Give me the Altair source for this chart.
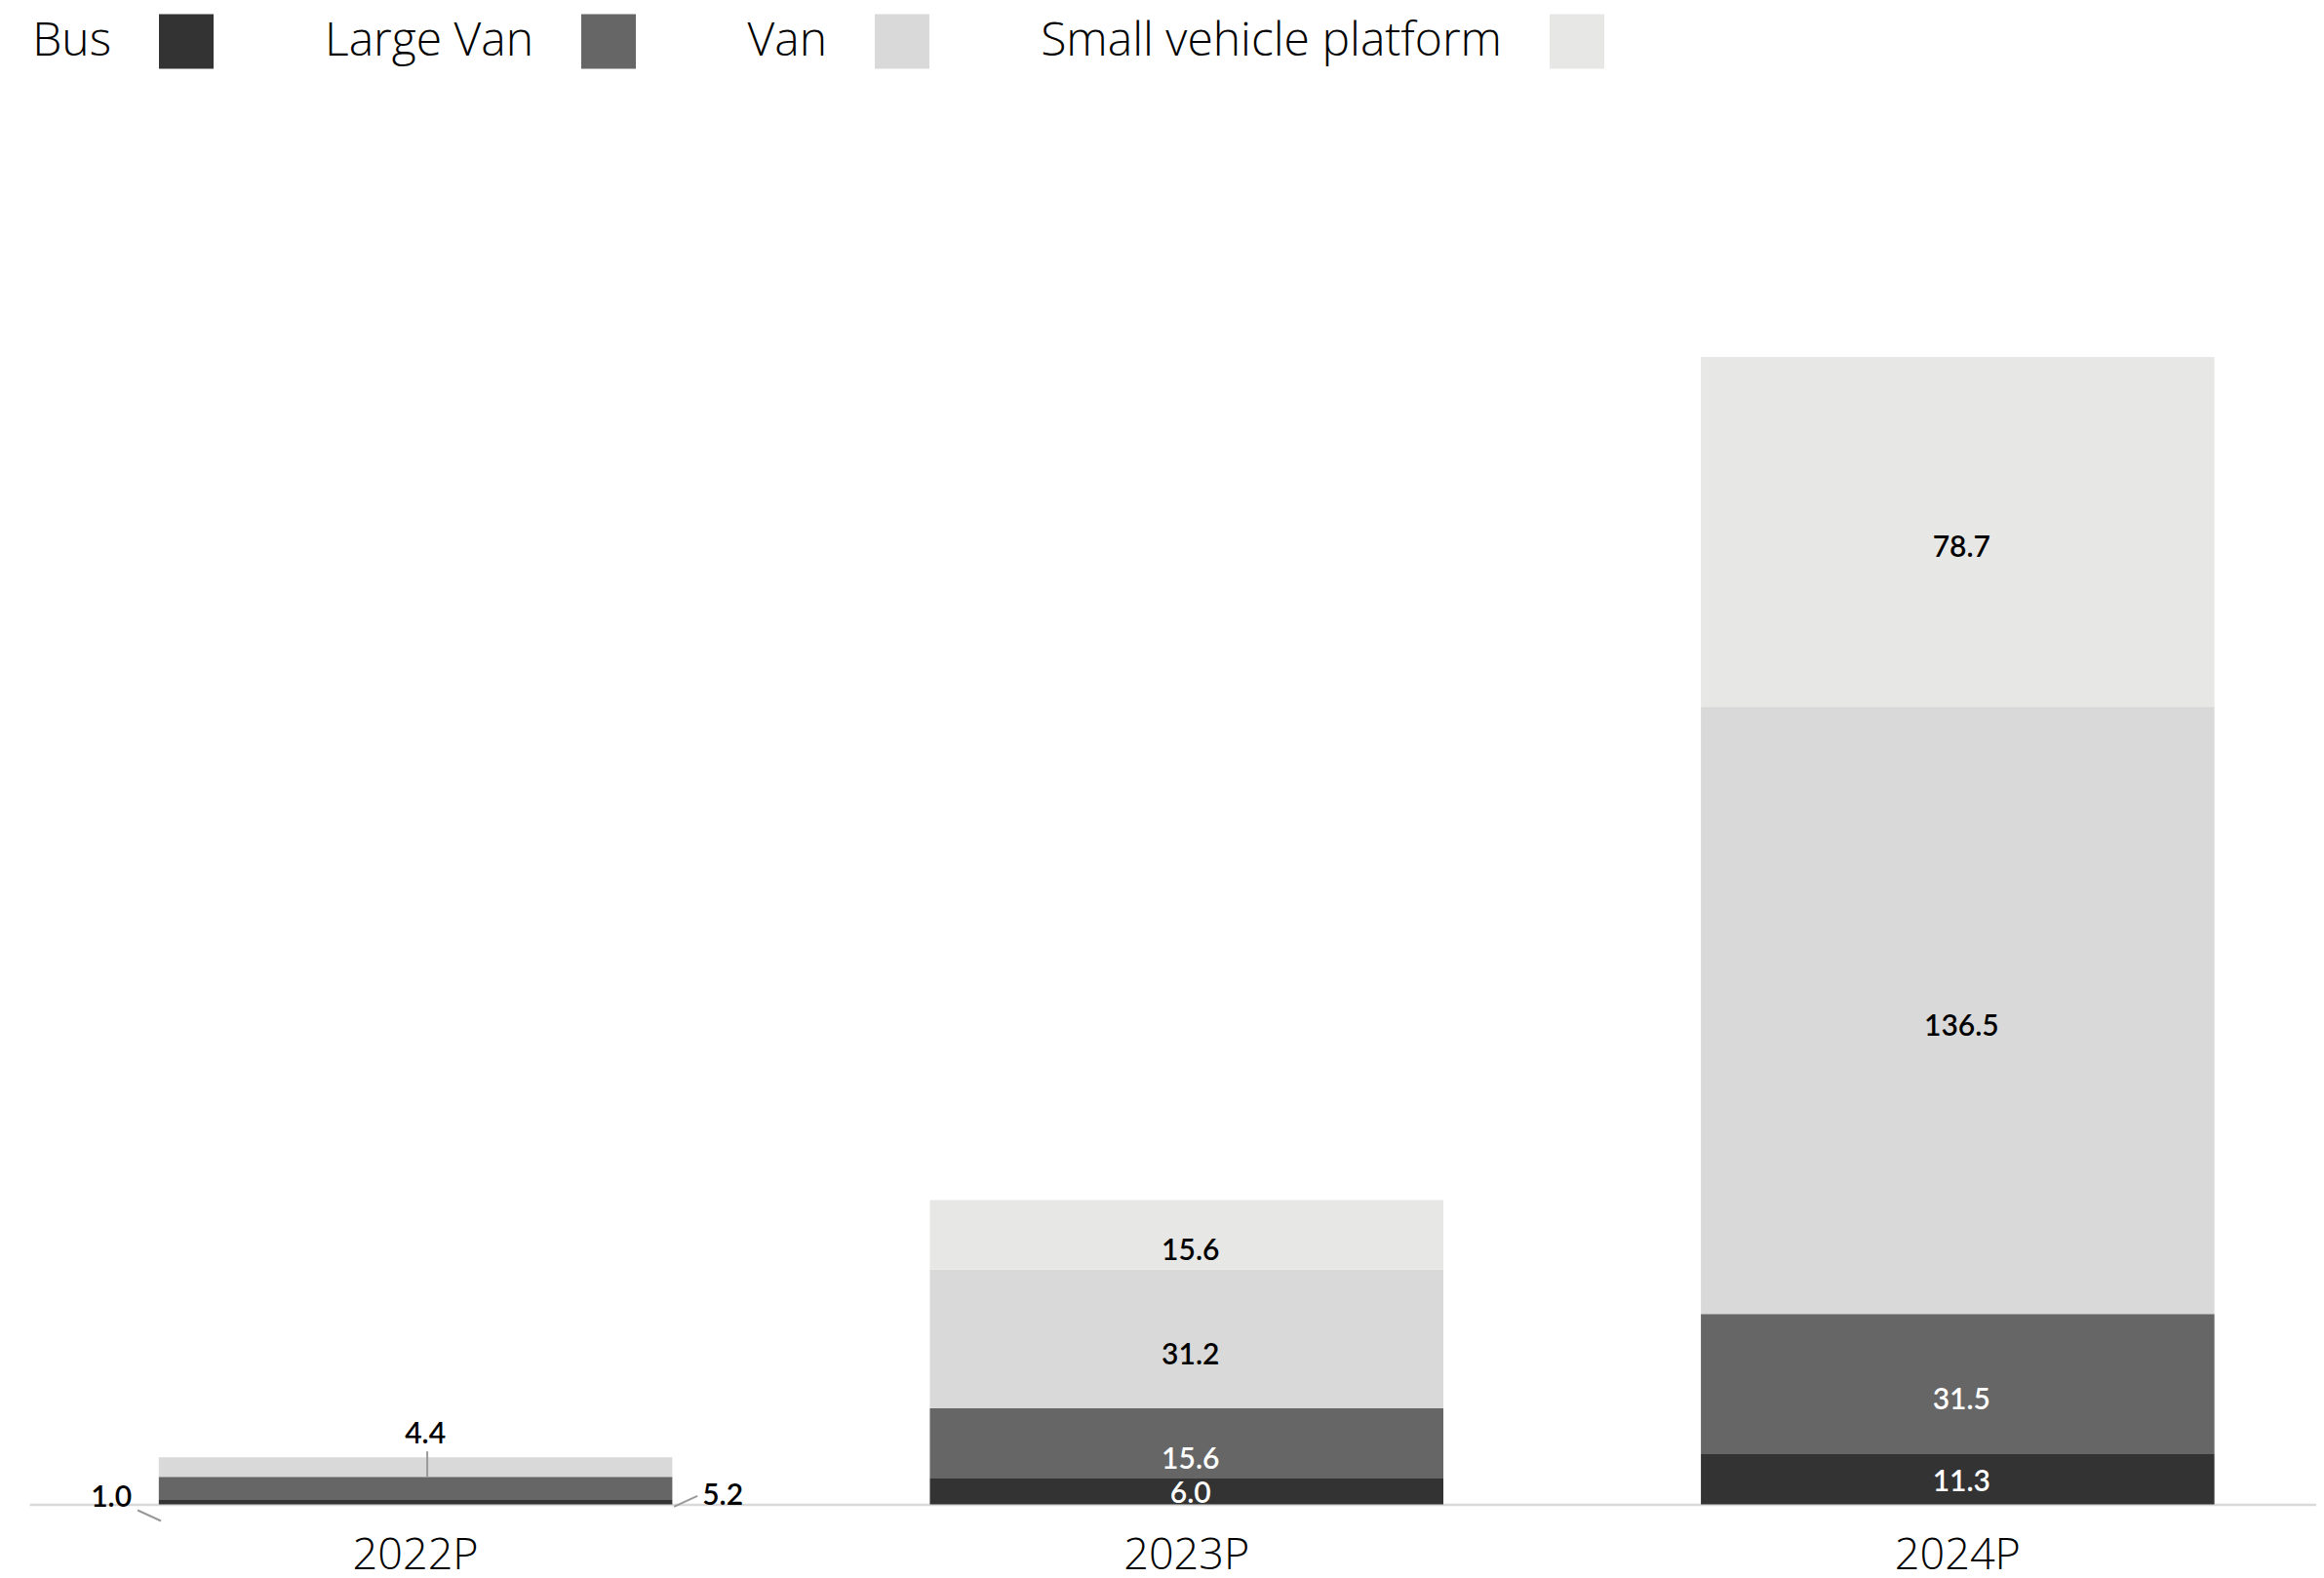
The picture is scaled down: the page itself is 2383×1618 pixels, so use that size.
import altair as alt
import pandas as pd

years = ["2022P", "2023P", "2024P"]
series = ["Bus", "Large Van", "Van", "Small vehicle platform"]
bus = [1.0, 6.0, 11.3]
large_van = [5.2, 15.6, 31.5]
van = [4.4, 31.2, 136.5]
svp = [0.0, 15.6, 78.7]
colors = ["#333333", "#666666", "#d9d9d9", "#e7e7e6"]

rows = []
for si, (name, vals) in enumerate(zip(series, [bus, large_van, van, svp])):
    for year, v in zip(years, vals):
        rows.append({"year": year, "series": name, "value": v, "idx": si,
                     "label": f"{v:.1f}"})
df = pd.DataFrame(rows)

FONT = "Lato"
LIGHT = "Open Sans"
base = alt.Chart(df)

x = alt.X("year:N", sort=years,
          scale=alt.Scale(paddingInner=0.334, paddingOuter=0.15, align=0.56),
          axis=alt.Axis(title=None, labelAngle=0, ticks=False, grid=False,
                        domainColor="#d9d9d9", domainWidth=2.5,
                        labelFont=LIGHT, labelFontSize=45, labelFontWeight=300,
                        labelColor="black", labelBaseline="alphabetic",
                        labelPadding=66))
yscale = alt.Scale(domain=[0, 300])

bars = base.mark_bar().encode(
    x=x,
    y=alt.Y("value:Q", stack="zero", scale=yscale, axis=None),
    color=alt.Color("series:N", sort=series,
                    scale=alt.Scale(domain=series, range=colors),
                    legend=alt.Legend(title=None, orient="none", direction="horizontal",
                                      legendX=133, legendY=-160,
                                      symbolType="square", symbolSize=3136,
                                      symbolStrokeWidth=0, symbolOpacity=1,
                                      labelFont=LIGHT, labelFontSize=48,
                                      labelFontWeight=300, labelColor="black",
                                      labelLimit=0, labelAlign="right",
                                      labelOffset=alt.ExprRef(expr="-105"),
                                      columnPadding=114)),
    order=alt.Order("idx:Q", sort="ascending"),
)

stacked = base.transform_stack(
    stack="value", groupby=["year"],
    sort=[alt.SortField("idx", order="ascending")], as_=["y0", "y1"]
).transform_calculate(mid="(datum.y0 + datum.y1) / 2")

inner_enc = dict(
    x=x,
    y=alt.Y("mid:Q", scale=yscale),
    text="label:N",
    color=alt.condition("datum.idx < 2", alt.value("white"), alt.value("black")),
)
inner_upper = stacked.transform_filter(
    "datum.year != '2022P' && datum.value > 0 && datum.series != 'Bus'"
).mark_text(font=FONT, fontSize=30, fontWeight=600, dy=17, dx=4).encode(**inner_enc)
inner_bus = stacked.transform_filter(
    "datum.year != '2022P' && datum.series == 'Bus'"
).mark_text(font=FONT, fontSize=30, fontWeight=600, dy=3, dx=4).encode(**inner_enc)

small = stacked.transform_filter("datum.year == '2022P'")
txt = dict(font=FONT, fontSize=30, fontWeight=600, color="black")

van_lbl = small.transform_filter("datum.series == 'Van'").mark_text(dx=10, dy=-23, **txt).encode(
    x=x, y=alt.Y("y1:Q", scale=yscale), text="label:N")
van_rule = small.transform_filter("datum.series == 'Van'").mark_rule(
    color="#999999", strokeWidth=2, xOffset=12, yOffset=-6).encode(
    x=x, y=alt.Y("y1:Q", scale=yscale), y2="y0:Q")

bus_lbl = small.transform_filter("datum.series == 'Bus'").mark_text(dx=-312, dy=-7, **txt).encode(
    x=x, y=alt.Y("y0:Q", scale=yscale), text="label:N")
bus_rule = small.transform_filter("datum.series == 'Bus'").mark_rule(
    color="#999999", strokeWidth=2, xOffset=-285, x2Offset=-261, yOffset=6, y2Offset=17).encode(
    x=x, x2=alt.X2("year:N"), y=alt.Y("y0:Q", scale=yscale), y2="y0:Q")

lv_lbl = small.transform_filter("datum.series == 'Large Van'").mark_text(dx=315, dy=-4, **txt).encode(
    x=x, y=alt.Y("y0:Q", scale=yscale), text="label:N")
lv_rule = small.transform_filter("datum.series == 'Large Van'").mark_rule(
    color="#999999", strokeWidth=2, xOffset=265, x2Offset=289, yOffset=7, y2Offset=-4).encode(
    x=x, x2=alt.X2("year:N"), y=alt.Y("y0:Q", scale=yscale), y2="y0:Q")

chart = alt.layer(bars, inner_upper, inner_bus, van_rule, van_lbl, bus_rule, bus_lbl,
                  lv_rule, lv_lbl).properties(
    width=2345, height=1368,
    autosize=alt.AutoSizeParams(type="none"),
    padding={"left": 22, "top": 166.5, "right": 0, "bottom": 67.5},
    background="white",
).configure_view(strokeWidth=0)

chart.save("out.html", embed_options={"renderer": "svg", "actions": False})
